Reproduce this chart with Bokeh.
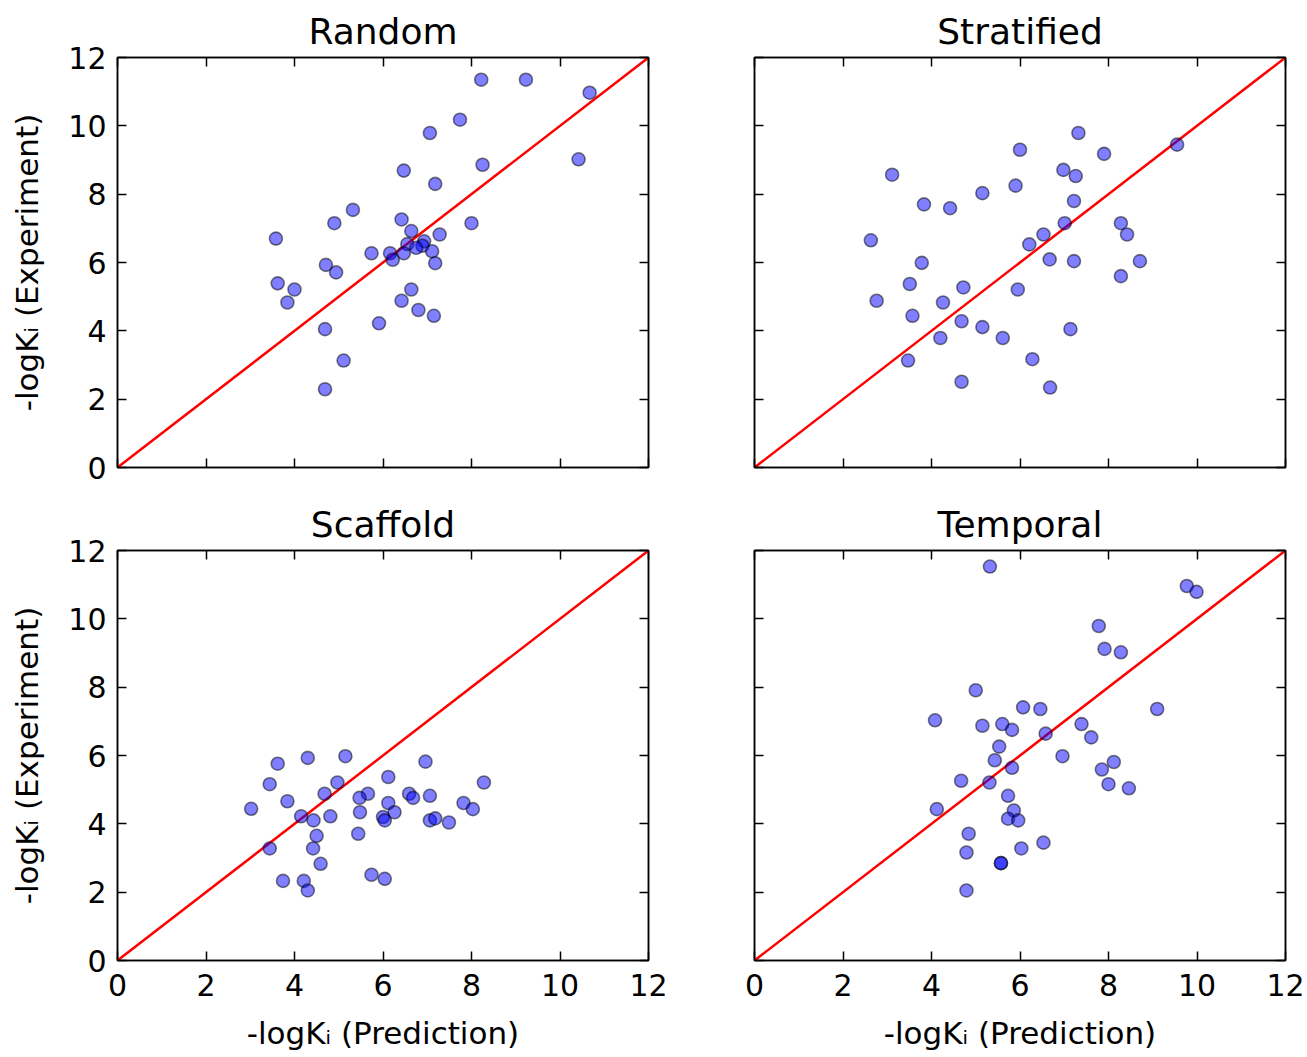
from bokeh.plotting import figure
from bokeh.layouts import column, row
from bokeh.models import Range1d, FixedTicker, LinearAxis
from bokeh.embed import file_html
from bokeh.resources import INLINE

# ---------------- data ----------------
AXIS_MIN, AXIS_MAX = 0, 12
tick_values = [0, 2, 4, 6, 8, 10, 12]
identity = [AXIS_MIN, AXIS_MAX]

titles = ["Random", "Stratified", "Scaffold", "Temporal"]

random_pred = [8.22, 9.23, 10.67, 7.74, 7.06, 10.42, 8.25, 6.47, 7.18, 5.32, 4.90, 8.00, 6.42,
               6.64, 7.28, 3.58, 6.55, 6.93, 6.89, 6.75, 7.11, 5.74, 6.16, 6.47, 6.22, 7.18,
               4.71, 4.94, 3.62, 4.00, 6.64, 3.84, 6.42, 6.80, 7.15, 5.91, 4.69, 5.11, 4.69]
random_exp = [11.35, 11.35, 10.97, 10.18, 9.79, 9.02, 8.86, 8.69, 8.30, 7.54, 7.15, 7.15, 7.26,
              6.92, 6.82, 6.70, 6.54, 6.62, 6.49, 6.43, 6.33, 6.27, 6.27, 6.27, 6.08, 5.98,
              5.93, 5.71, 5.39, 5.21, 5.21, 4.83, 4.88, 4.61, 4.44, 4.22, 4.05, 3.13, 2.29]

stratified_pred = [7.32, 9.55, 6.00, 7.90, 6.98, 7.26, 3.11, 5.90, 5.15, 7.22, 3.83, 4.42, 7.01,
                   8.28, 8.42, 6.53, 6.21, 2.63, 6.67, 7.22, 8.71, 3.78, 8.28, 3.51, 4.72, 5.95,
                   2.76, 4.26, 3.57, 4.68, 5.15, 7.14, 4.20, 5.61, 3.47, 6.28, 4.68, 6.68]
stratified_exp = [9.79, 9.45, 9.30, 9.18, 8.71, 8.53, 8.57, 8.25, 8.03, 7.80, 7.70, 7.59, 7.15,
                  7.15, 6.82, 6.82, 6.53, 6.65, 6.09, 6.04, 6.04, 5.99, 5.60, 5.37, 5.27, 5.21,
                  4.88, 4.83, 4.44, 4.28, 4.11, 4.05, 3.79, 3.79, 3.13, 3.17, 2.51, 2.34]

scaffold_pred = [5.15, 4.30, 3.62, 6.96, 6.12, 8.28, 3.44, 4.97, 4.68, 5.66, 5.47, 6.59, 6.68,
                 7.06, 3.84, 6.12, 7.82, 3.02, 8.03, 5.48, 6.26, 4.15, 4.81, 4.43, 6.00, 6.04,
                 7.06, 7.18, 7.49, 4.50, 5.44, 3.44, 4.42, 4.59, 5.74, 6.04, 3.74, 4.21, 4.30]
scaffold_exp = [5.98, 5.93, 5.76, 5.82, 5.37, 5.21, 5.16, 5.21, 4.88, 4.88, 4.76, 4.88, 4.76,
                4.82, 4.66, 4.61, 4.61, 4.44, 4.43, 4.34, 4.34, 4.22, 4.22, 4.10, 4.20, 4.10,
                4.10, 4.16, 4.04, 3.65, 3.71, 3.28, 3.28, 2.83, 2.51, 2.39, 2.33, 2.33, 2.05]

temporal_pred = [5.32, 9.77, 9.99, 7.78, 7.91, 8.28, 5.00, 6.07, 6.46, 9.10, 4.08, 5.15, 5.60,
                 5.82, 7.39, 6.58, 7.61, 5.53, 6.96, 5.43, 5.82, 8.12, 7.85, 4.67, 5.31, 8.00,
                 8.46, 5.73, 4.12, 5.86, 5.73, 5.96, 4.84, 4.79, 6.03, 6.53, 5.57, 5.57, 4.79]
temporal_exp = [11.53, 10.96, 10.79, 9.79, 9.12, 9.02, 7.91, 7.41, 7.36, 7.36, 7.03, 6.87, 6.92,
                6.75, 6.92, 6.64, 6.53, 6.26, 5.98, 5.86, 5.64, 5.81, 5.59, 5.26, 5.21, 5.16,
                5.04, 4.82, 4.43, 4.39, 4.15, 4.10, 3.71, 3.16, 3.28, 3.45, 2.85, 2.85, 2.05]

series = [(random_pred, random_exp), (stratified_pred, stratified_exp),
          (scaffold_pred, scaffold_exp), (temporal_pred, temporal_exp)]

xlabel = "-logKᵢ (Prediction)"
ylabel = "-logKᵢ (Experiment)"

FONT = "DejaVu Sans"
TICK_SIZE = "30px"
LABEL_SIZE = "31px"
TITLE_SIZE = "36px"

FRAME_W, FRAME_H = 531, 410


def style_axis(ax, show_labels, standoff=10):
    ax.ticker = FixedTicker(ticks=tick_values)
    ax.major_tick_in = 9
    ax.major_tick_out = 0
    ax.minor_tick_line_color = None
    ax.major_tick_line_color = "black"
    ax.major_tick_line_width = 1.5
    ax.axis_line_color = "black"
    ax.axis_line_width = 1.5
    ax.major_label_text_font = FONT
    ax.major_label_text_color = "black"
    if show_labels:
        ax.major_label_text_font_size = TICK_SIZE
        ax.major_label_standoff = standoff
    else:
        ax.major_label_overrides = {v: "" for v in tick_values}
        ax.major_label_text_font_size = "1px"
        ax.major_label_standoff = 0


def make_panel(idx):
    r, c = divmod(idx, 2)
    left = 117 if c == 0 else 86
    right = 20 if c == 0 else 22
    top = 57 if r == 0 else 63
    bottom = 20 if r == 0 else 97
    p = figure(width=left + FRAME_W + right, height=top + FRAME_H + bottom,
               x_range=Range1d(AXIS_MIN, AXIS_MAX), y_range=Range1d(AXIS_MIN, AXIS_MAX),
               output_backend="svg", toolbar_location=None,
               x_axis_location=None, y_axis_location=None,
               min_border_left=left, min_border_right=right,
               min_border_top=top, min_border_bottom=bottom,
               title=titles[idx])
    p.title.text_font = FONT
    p.title.text_font_size = TITLE_SIZE
    p.title.text_font_style = "normal"
    p.title.text_color = "black"
    p.title.align = "center"
    p.title.standoff = 12
    p.outline_line_color = "black"
    p.outline_line_width = 1.5
    p.xgrid.visible = False
    p.ygrid.visible = False
    p.background_fill_color = "white"
    p.border_fill_color = "white"

    bottom_ax = LinearAxis()
    style_axis(bottom_ax, r == 1, standoff=13)
    if r == 1:
        bottom_ax.axis_label = xlabel
        bottom_ax.axis_label_text_font = FONT
        bottom_ax.axis_label_text_font_size = LABEL_SIZE
        bottom_ax.axis_label_text_font_style = "normal"
        bottom_ax.axis_label_text_color = "black"
        bottom_ax.axis_label_standoff = 16
    p.add_layout(bottom_ax, "below")

    left_ax = LinearAxis()
    style_axis(left_ax, c == 0, standoff=11)
    if c == 0:
        left_ax.axis_label = ylabel
        left_ax.axis_label_text_font = FONT
        left_ax.axis_label_text_font_size = LABEL_SIZE
        left_ax.axis_label_text_font_style = "normal"
        left_ax.axis_label_text_color = "black"
        left_ax.axis_label_standoff = 20
    p.add_layout(left_ax, "left")

    top_ax = LinearAxis()
    style_axis(top_ax, False)
    p.add_layout(top_ax, "above")
    right_ax = LinearAxis()
    style_axis(right_ax, False)
    p.add_layout(right_ax, "right")

    xs, ys = series[idx]
    p.line(identity, identity, line_color="red", line_width=2.5)
    p.scatter(xs, ys, size=13, fill_color="blue", fill_alpha=0.5,
              line_color="black", line_alpha=0.5, line_width=1.6)
    return p


panels = [make_panel(i) for i in range(4)]
layout = column(row(panels[0], panels[1], spacing=0), row(panels[2], panels[3], spacing=0), spacing=0)

open("out.html", "w").write(file_html(layout, INLINE))
